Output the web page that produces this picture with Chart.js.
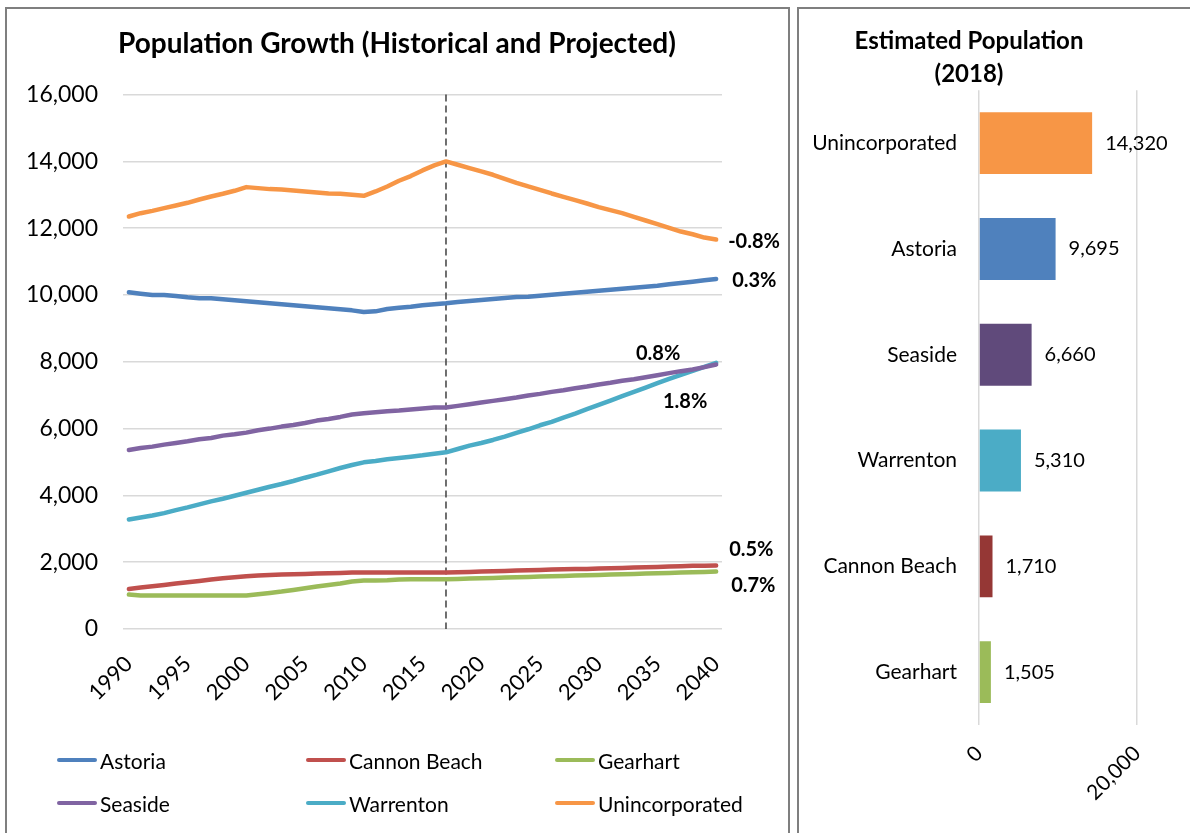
<!DOCTYPE html>
<html><head><meta charset="utf-8">
<script src="https://cdn.jsdelivr.net/npm/chart.js@4/dist/chart.umd.min.js"></script>
<style>
html,body{margin:0;padding:0;background:#fff;width:1190px;height:833px;overflow:hidden;font-family:Lato,sans-serif;}
.panel{position:absolute;box-sizing:border-box;border:2px solid #7f7f7f;}
#leftPanel{left:5px;top:7px;width:785px;height:840px;}
#rightPanel{left:797px;top:7px;width:400px;height:840px;}
#c1{position:absolute;left:7px;top:9px;}
#c2{position:absolute;left:799px;top:9px;}
#legend{position:absolute;left:0;top:0;}
.lg{position:absolute;height:24px;display:flex;align-items:center;font-size:21px;color:#000;white-space:nowrap;}
.lg .sw{width:40px;height:4px;border-radius:2px;margin-right:3px;}
</style></head>
<body>
<div class="panel" id="leftPanel"></div>
<div class="panel" id="rightPanel"></div>
<canvas id="c1" width="780" height="824"></canvas>
<canvas id="c2" width="391" height="824"></canvas>
<div id="legend"></div>
<script>
// ---------- Data: line chart ----------
const years = ['1990','1991','1992','1993','1994','1995','1996','1997','1998','1999',
'2000','2001','2002','2003','2004','2005','2006','2007','2008','2009',
'2010','2011','2012','2013','2014','2015','2016','2017','2018','2019',
'2020','2021','2022','2023','2024','2025','2026','2027','2028','2029',
'2030','2031','2032','2033','2034','2035','2036','2037','2038','2039','2040'];

const astoria = [10080,10040,10000,10000,9970,9930,9900,9900,9870,9840,
9810,9780,9750,9720,9690,9660,9630,9600,9570,9540,
9490,9510,9580,9620,9650,9690,9720,9750,9790,9820,
9850,9880,9910,9940,9950,9980,10010,10040,10070,10100,
10130,10160,10190,10220,10250,10280,10320,10360,10400,10440,10480];

const cannonBeach = [1200,1240,1280,1320,1360,1400,1440,1480,1520,1550,
1580,1600,1620,1630,1640,1650,1660,1670,1680,1690,
1690,1690,1690,1690,1690,1690,1690,1690,1700,1710,
1720,1730,1740,1750,1760,1770,1780,1790,1800,1800,
1810,1820,1830,1840,1850,1860,1870,1880,1890,1890,1900];

const gearhart = [1030,1000,1000,1000,1000,1000,1000,1000,1000,1000,
1000,1040,1080,1120,1170,1220,1270,1320,1360,1420,
1450,1450,1460,1480,1490,1490,1490,1490,1500,1510,
1520,1530,1540,1550,1560,1570,1580,1590,1600,1610,
1620,1630,1640,1650,1660,1670,1680,1690,1700,1710,1720];

const seaside = [5360,5420,5460,5520,5570,5620,5680,5720,5790,5830,
5880,5950,6000,6060,6110,6170,6240,6290,6350,6420,
6460,6490,6520,6540,6570,6600,6630,6630,6680,6730,
6780,6830,6880,6930,6990,7040,7100,7150,7210,7260,
7320,7370,7430,7480,7540,7600,7660,7720,7770,7840,7920];

const warrenton = [3280,3340,3400,3470,3560,3640,3730,3820,3900,3990,
4080,4170,4260,4340,4430,4530,4620,4720,4820,4910,
4990,5030,5080,5120,5160,5200,5250,5290,5390,5490,
5570,5660,5760,5870,5980,6100,6200,6330,6450,6580,
6710,6840,6970,7100,7230,7360,7490,7610,7730,7850,7970];

const unincorporated = [12350,12450,12520,12600,12680,12760,12860,12950,13030,13120,
13230,13200,13170,13160,13130,13100,13070,13040,13030,13000,
12970,13100,13250,13420,13560,13730,13880,14000,13900,13800,
13700,13600,13480,13360,13250,13150,13040,12940,12840,12740,
12630,12540,12450,12340,12230,12120,12010,11900,11820,11720,11660];

const seriesNames = ['Astoria','Cannon Beach','Gearhart','Seaside','Warrenton','Unincorporated'];
const seriesValues = [astoria, cannonBeach, gearhart, seaside, warrenton, unincorporated];
const growthLabels = ['0.3%','0.5%','0.7%','0.8%','1.8%','-0.8%'];
const dividerYear = '2017';

// ---------- Data: bar chart ----------
const barCategories = ['Unincorporated','Astoria','Seaside','Warrenton','Cannon Beach','Gearhart'];
const barValues = [14320, 9695, 6660, 5310, 1710, 1505];

// ---------- Styles ----------
const lineColors = ['#4F81BD','#C0504D','#9BBB59','#8064A2','#4BACC6','#F79646'];
const barColors = ['#F79646','#4F81BD','#604A7B','#4BACC6','#953735','#9BBB59'];
// label placement relative to last point (styling only)
const growthLabelStyle = [
  {dx:16, dy:2, align:'left'},
  {dx:13, dy:-16, align:'left'},
  {dx:15, dy:14, align:'left'},
  {dx:-58, dy:-11, align:'center'},
  {dx:-31, dy:39, align:'center'},
  {dx:12, dy:2, align:'left'}
];
const FONT = 'Lato';
Chart.defaults.font.family = FONT;
Chart.defaults.color = '#000';

const dividerPlugin = {
  id:'divider',
  beforeDatasetsDraw(chart){
    const {ctx, chartArea, scales} = chart;
    const px = scales.x.getPixelForValue(years.indexOf(dividerYear));
    ctx.save();
    ctx.strokeStyle = '#404040';
    ctx.lineWidth = 1.5;
    ctx.setLineDash([7,4]);
    ctx.beginPath();
    ctx.moveTo(px, chartArea.top);
    ctx.lineTo(px, chartArea.bottom);
    ctx.stroke();
    ctx.restore();
  }
};
const growthPlugin = {
  id:'growth',
  afterDatasetsDraw(chart){
    const ctx = chart.ctx;
    ctx.save();
    ctx.font = 'bold 20px ' + FONT;
    ctx.fillStyle = '#000';
    ctx.textBaseline = 'middle';
    chart.data.datasets.forEach((ds, i) => {
      const meta = chart.getDatasetMeta(i);
      const pt = meta.data[meta.data.length - 1];
      const st = growthLabelStyle[i];
      ctx.textAlign = st.align;
      ctx.fillText(growthLabels[i], pt.x + st.dx, pt.y + st.dy);
    });
    ctx.restore();
  }
};

new Chart(document.getElementById('c1'), {
  type:'line',
  data:{
    labels: years,
    datasets: seriesNames.map((n,i)=>({
      label:n, data:seriesValues[i], borderColor:lineColors[i], backgroundColor:lineColors[i],
      borderWidth:4.5, pointRadius:0, tension:0, borderCapStyle:'round', borderJoinStyle:'round',
      yAxisID:'y'
    }))
  },
  options:{
    responsive:false, animation:false,
    layout:{padding:{left:0, right:0, top:0, bottom:0}},
    plugins:{
      legend:{display:false}, tooltip:{enabled:false},
      title:{display:true, text:'Population Growth (Historical and Projected)',
        font:{size:28, weight:'bold', family:FONT, lineHeight:1.2}, color:'#000', padding:{top:18, bottom:34}}
    },
    scales:{
      x:{
        offset:true,
        grid:{display:false, drawTicks:false}, border:{display:false},
        ticks:{autoSkip:false, maxRotation:45, minRotation:45, padding:22,
          font:{size:22, family:FONT}, color:'#000',
          callback:(v,i)=> (i%5===0 ? years[i] : '')},
        afterFit(s){ s.height = 204; }
      },
      y:{
        position:'left', min:0, max:16000,
        grid:{color:'#d9d9d9', lineWidth:1.5, drawTicks:false}, border:{display:false},
        ticks:{stepSize:2000, padding:25, font:{size:23, family:FONT}, color:'#000'},
        afterFit(s){ s.width = 116; }
      },
      yRight:{
        position:'right', display:true,
        grid:{display:false, drawTicks:false}, border:{display:false},
        ticks:{display:false},
        afterFit(s){ s.width = 65; }
      }
    }
  },
  plugins:[dividerPlugin, growthPlugin]
});

const barLabelPlugin = {
  id:'barLabels',
  afterDatasetsDraw(chart){
    const ctx = chart.ctx;
    const meta = chart.getDatasetMeta(0);
    ctx.save();
    ctx.font = '20px ' + FONT;
    ctx.fillStyle = '#000';
    ctx.textAlign = 'left';
    ctx.textBaseline = 'middle';
    meta.data.forEach((bar, i) => {
      ctx.fillText(barValues[i].toLocaleString('en-US'), bar.x + 13, bar.y);
    });
    ctx.restore();
  }
};

new Chart(document.getElementById('c2'), {
  type:'bar',
  data:{ labels: barCategories,
    datasets:[{data:barValues, backgroundColor:barColors, borderWidth:0,
      barPercentage:0.585, categoryPercentage:1}]},
  options:{
    indexAxis:'y', responsive:false, animation:false,
    layout:{padding:{left:2, right:53, top:0, bottom:0}},
    plugins:{
      legend:{display:false}, tooltip:{enabled:false},
      title:{display:true, text:['Estimated Population','(2018)'],
        font:{size:24, weight:'bold', family:FONT, lineHeight:1.36}, color:'#000', padding:{top:16, bottom:0}}
    },
    scales:{
      x:{
        min:0, max:20000,
        grid:{color:'#d9d9d9', lineWidth:1.5, drawTicks:false}, border:{display:false},
        ticks:{stepSize:20000, maxRotation:45, minRotation:45, padding:16,
          font:{size:21, family:FONT}, color:'#000'},
        afterFit(s){ s.height = 108; }
      },
      y:{
        grid:{display:false, drawTicks:false}, border:{display:false},
        ticks:{padding:22, font:{size:21, family:FONT}, color:'#000'},
        afterFit(s){ s.width = 178; }
      }
    }
  },
  plugins:[barLabelPlugin]
});

// HTML legend for the line chart
const legendPos = [[57,748],[306,748],[555,748],[57,791],[306,791],[555,791]];
const lg = document.getElementById('legend');
seriesNames.forEach((n,i)=>{
  const d = document.createElement('div');
  d.className='lg';
  d.style.left = legendPos[i][0]+'px';
  d.style.top = legendPos[i][1]+'px';
  d.innerHTML = '<span class="sw" style="background:'+lineColors[i]+'"></span><span></span>';
  d.lastChild.textContent = n;
  lg.appendChild(d);
});
</script>
</body></html>
